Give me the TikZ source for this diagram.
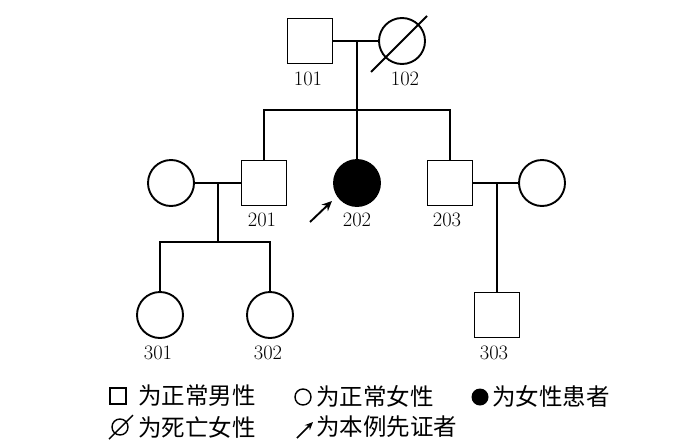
\documentclass[tikz,border=0pt]{standalone}
\usepackage{fontspec}
\newfontfamily\cjk{Noto Sans CJK SC}
\usetikzlibrary{arrows.meta}
\begin{document}
\begin{tikzpicture}[x=1pt,y=-1pt,
  lw/.style={line width=1.9pt},
  male/.style={draw,lw,rectangle,minimum size=45pt,inner sep=0pt},
  female/.style={draw,lw,circle,minimum size=46pt,inner sep=0pt},
  lbl/.style={inner sep=0pt,font=\fontsize{20.5}{24}\selectfont},
  leg/.style={anchor=west,inner sep=0pt,font=\cjk\fontsize{23.5}{26}\selectfont},
  ln/.style={lw},
  proband/.style={lw,-{Stealth[length=10pt,width=9pt]}}]
\useasboundingbox (0,0) rectangle (700,447);
% generation I
\node[male] (i1) at (310,41) {};
\node[female] (i2) at (402,41) {};
\draw[ln] (371,72) -- (427,16);
\node[lbl] (l101) at (308,79) {101};
\node[lbl] (l102) at (405,79) {102};
% generation II
\node[female] (ii0) at (171,183) {};
\node[male] (ii1) at (264,183) {};
\node[female,fill=black] (ii2) at (357,183) {};
\node[male] (ii3) at (450,183) {};
\node[female] (ii4) at (542,183) {};
\node[lbl] (l201) at (262,220) {201};
\node[lbl] (l202) at (357,220) {202};
\node[lbl] (l203) at (447,220) {203};
% generation III
\node[female] (iii1) at (160,315) {};
\node[female] (iii2) at (270,315) {};
\node[male] (iii3) at (497,315) {};
\node[lbl] (l301) at (158,353) {301};
\node[lbl] (l302) at (268,353) {302};
\node[lbl] (l303) at (494,353) {303};
% connectors
\coordinate (m1) at (357,41);
\coordinate (s1) at (357,110);
\draw[ln] (i1.east) -- (i2.west);
\draw[ln] (m1) -- (s1);
\draw[ln] (ii1.north) |- (s1) -| (ii3.north);
\draw[ln] (s1) -- (ii2.north);
\coordinate (m2) at (218,183);
\coordinate (s2) at (218,242);
\draw[ln] (ii0.east) -- (ii1.west);
\draw[ln] (m2) -- (s2);
\draw[ln] (iii1.north) |- (s2) -| (iii2.north);
\coordinate (m3) at (497,183);
\draw[ln] (ii3.east) -- (ii4.west);
\draw[ln] (m3) -- (iii3.north);
\coordinate (a1) at (310,222);
\coordinate (a2) at (332,201);
\draw[proband] (a1) -- (a2);
% legend
\node[draw,line width=1.4pt,minimum size=16pt,inner sep=0pt] (k1) at (118,396) {};
\node[leg] (t1) at (138,396) {为正常男性};
\node[draw,line width=1.4pt,circle,minimum size=16pt,inner sep=0pt] (k2) at (303,397) {};
\node[leg] (t2) at (316,396) {为正常女性};
\node[fill=black,circle,minimum size=17pt,inner sep=0pt] (k3) at (480,397) {};
\node[leg] (t3) at (492,396) {为女性患者};
\node[draw,line width=1.4pt,circle,minimum size=16pt,inner sep=0pt] (k4) at (120,427) {};
\draw[line width=1.4pt] (109,439) -- (133,415);
\node[leg] (t4) at (138,427) {为死亡女性};
\coordinate (b1) at (297,438);
\coordinate (b2) at (313,422);
\draw[line width=1.7pt,-{Stealth[length=8pt,width=7pt]}] (b1) -- (b2);
\node[leg] (t5) at (316,427) {为本例先证者};
\end{tikzpicture}
\end{document}
